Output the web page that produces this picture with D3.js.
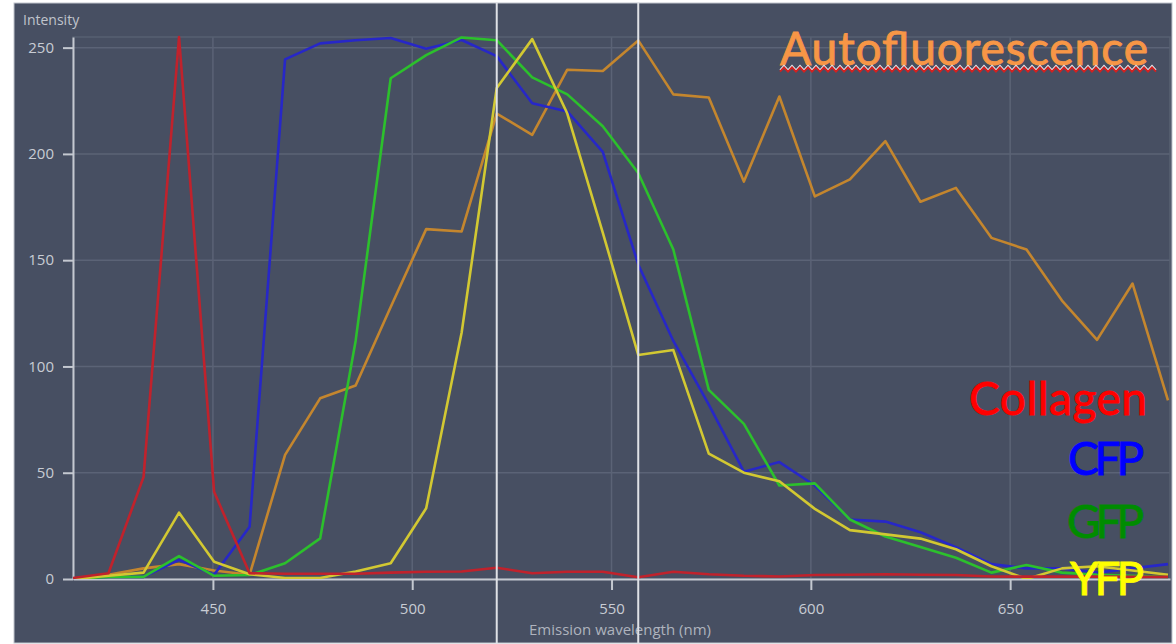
<!DOCTYPE html>
<html>
<head>
<meta charset="utf-8">
<script src="https://cdn.jsdelivr.net/npm/d3@7"></script>
<style>
  html, body { margin: 0; padding: 0; background: #ffffff; }
  svg { display: block; }
</style>
</head>
<body>
<svg id="chart" width="1176" height="644"></svg>
<script>
// Emission channels (nm) of the spectral detector
const wavelengths = [414.9, 423.8, 432.6, 441.5, 450.3, 459.2, 468.1, 476.9, 485.8, 494.6,
  503.5, 512.4, 521.2, 530.1, 538.9, 547.8, 556.7, 565.5, 574.4, 583.2, 592.1, 601.0,
  609.8, 618.7, 627.5, 636.4, 645.3, 654.1, 663.0, 671.8, 680.7, 689.6];

// Intensity per channel for each emitter
const collagen = [0.5, 2.7, 48, 255, 41, 2.7, 2.5, 2.5, 2.5, 3, 3.4, 3.5, 5.3, 2.7, 3.4, 3.4,
  0.8, 3.4, 2.2, 1.5, 1.2, 1.9, 2, 2.2, 2, 1.9, 1.2, 1.1, 1.1, 1.1, 1, 1];
const cfp = [0, 1, 1, 9, 2, 24.6, 244.5, 252, 253.5, 254.5, 249.5, 253.6, 246, 223.8, 220, 201,
  148, 112, 82, 50.5, 55, 44, 28, 27, 22, 15, 7, 5, 5, 3, 5, 7];
const gfp = [0, 1, 1, 10.8, 1.5, 1.9, 7.4, 19.1, 112, 235.6, 246.5, 254.8, 253.5, 236, 228, 213,
  191, 155, 89, 73, 44, 45, 28, 20, 15, 10, 3, 6.6, 3, 2, 1.5, 1];
const yfp = [0, 1.5, 3, 31.2, 8.1, 2.2, 0.5, 0.5, 3.5, 7.4, 33.3, 116, 231, 254, 219, 163,
  105.4, 107.7, 59, 50, 46, 33, 23, 21, 19, 14, 6, 0, 5, 6, 4, 2];
const autofluorescence = [0, 2, 5, 7, 4, 2, 58.4, 85, 91, 128, 164.6, 163.5, 219, 209, 239.6, 239,
  253.4, 228, 226.5, 187, 227, 180, 188, 206, 177.5, 184, 160.5, 155, 131, 112.5, 139, 84];

// Cursor lines and axis ticks
const markerWavelengths = [521.2, 556.7];
const xTicks = [450, 500, 550, 600, 650];
const yTicks = [0, 50, 100, 150, 200, 250];

const labelNames = ["Autofluorescence", "Collagen", "CFP", "GFP", "YFP"];

const svg = d3.select("#chart");

// panel
const panel = { x: 14, y: 3, w: 1158, h: 640 };
const plot = { left: 73, right: 1170, top: 37, bottom: 579 };

svg.append("rect")
  .attr("x", panel.x).attr("y", panel.y)
  .attr("width", panel.w).attr("height", panel.h)
  .attr("fill", "#474f62")
  .attr("stroke", "#c2c6ce").attr("stroke-width", 1);

const x = d3.scaleLinear().domain([414.9, 690.1]).range([plot.left, plot.right]);
const y = d3.scaleLinear().domain([0, 255]).range([plot.bottom, plot.top]);

// grid
const grid = svg.append("g").attr("stroke", "#5b6376").attr("stroke-width", 1.5);
grid.selectAll("line.h").data(yTicks.filter(d => d > 0)).join("line")
  .attr("x1", plot.left).attr("x2", plot.right)
  .attr("y1", d => y(d)).attr("y2", d => y(d));
grid.selectAll("line.v").data(xTicks).join("line")
  .attr("y1", plot.top).attr("y2", plot.bottom)
  .attr("x1", d => x(d)).attr("x2", d => x(d));
svg.append("rect")
  .attr("x", plot.left).attr("y", plot.top)
  .attr("width", plot.right - plot.left).attr("height", plot.bottom - plot.top)
  .attr("fill", "none").attr("stroke", "#576072").attr("stroke-width", 1.5);

// axes
const tickFont = "'Open Sans', 'DejaVu Sans', sans-serif";
const yAxis = svg.append("g")
  .attr("transform", `translate(${plot.left},0)`)
  .call(d3.axisLeft(y).tickValues(yTicks).tickSize(10).tickPadding(9).tickSizeOuter(0));
const xAxis = svg.append("g")
  .attr("transform", `translate(0,${plot.bottom})`)
  .call(d3.axisBottom(x).tickValues(xTicks).tickSize(11).tickPadding(13).tickSizeOuter(0));
[yAxis, xAxis].forEach(g => {
  g.select(".domain").attr("stroke", "#c4c8d0").attr("stroke-width", 2);
  g.selectAll(".tick line").attr("stroke", "#c4c8d0").attr("stroke-width", 2);
  g.selectAll(".tick text").attr("fill", "#c8ccd4")
    .style("font-family", tickFont).style("font-size", "15px");
});

svg.append("text")
  .attr("x", 23).attr("y", 25)
  .attr("fill", "#c0c4cc")
  .style("font-family", tickFont).style("font-size", "14px")
  .text("Intensity");

svg.append("text")
  .attr("x", 620).attr("y", 635)
  .attr("text-anchor", "middle")
  .attr("fill", "#aeb3bd")
  .style("font-family", tickFont).style("font-size", "15px")
  .text("Emission wavelength (nm)");

// spectra
svg.append("clipPath").attr("id", "plotClip")
  .append("rect")
  .attr("x", plot.left).attr("y", plot.top - 5)
  .attr("width", plot.right - plot.left).attr("height", plot.bottom - plot.top + 5);

const series = [
  { values: autofluorescence, color: "#c4862e" },
  { values: cfp, color: "#2727c8" },
  { values: gfp, color: "#2cc02c" },
  { values: yfp, color: "#d2c832" },
  { values: collagen, color: "#c0222c" }
];

const line = d3.line()
  .x((d, i) => x(wavelengths[i]))
  .y(d => y(d));

svg.append("g").attr("clip-path", "url(#plotClip)")
  .selectAll("path").data(series).join("path")
  .attr("d", d => line(d.values))
  .attr("fill", "none")
  .attr("stroke", d => d.color)
  .attr("stroke-width", 2.6)
  .attr("stroke-linejoin", "round");

// cursor lines
svg.append("g").selectAll("line").data(markerWavelengths).join("line")
  .attr("x1", d => x(d)).attr("x2", d => x(d))
  .attr("y1", panel.y).attr("y2", panel.y + panel.h)
  .attr("stroke", "#dfe1e6").attr("stroke-width", 2);

// labels
const labelFont = "Lato, 'Open Sans', sans-serif";
const labels = [
  { text: labelNames[0], color: "#f79646", x: 1148, y: 65, len: 368 },
  { text: labelNames[1], color: "#ff0000", x: 1147, y: 415, len: 178 },
  { text: labelNames[2], color: "#0000ff", x: 1144, y: 475, len: 76 },
  { text: labelNames[3], color: "#008c00", x: 1144, y: 538, len: 77 },
  { text: labelNames[4], color: "#ffff00", x: 1144, y: 595, len: 74 }
];
svg.append("g").selectAll("text").data(labels).join("text")
  .attr("x", d => d.x).attr("y", d => d.y)
  .attr("text-anchor", "end")
  .attr("fill", d => d.color)
  .attr("stroke", d => d.color)
  .attr("stroke-width", 0.9)
  .attr("textLength", d => d.len)
  .style("font-family", labelFont).style("font-size", "46px")
  .text(d => d.text);

// wavy underline beneath the first label
const wave = d3.range(780, 1160, 4).map((px, i) => [px, 69.5 + (i % 2 ? -2.2 : 2.2)]);
svg.append("path").attr("d", d3.line()(wave.map(p => [p[0], p[1] - 1.8])))
  .attr("fill", "none").attr("stroke", "#e8e8ec").attr("stroke-width", 1.4);
svg.append("path").attr("d", d3.line()(wave))
  .attr("fill", "none").attr("stroke", "#d42020").attr("stroke-width", 1.8);
</script>
</body>
</html>
